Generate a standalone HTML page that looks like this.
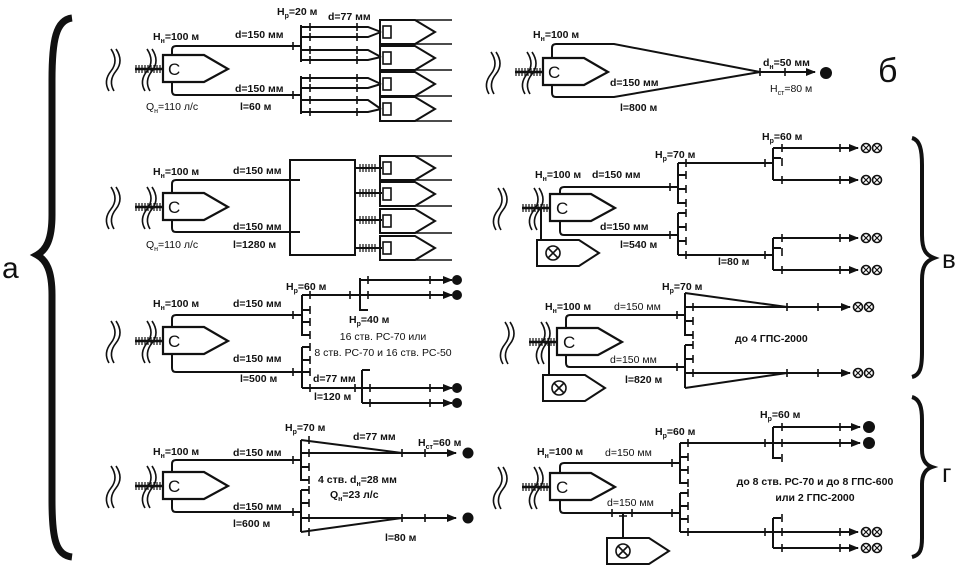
<!DOCTYPE html>
<html><head><meta charset="utf-8"><style>
html,body{margin:0;padding:0;background:#fff;}
svg{display:block;}
text{font-family:"Liberation Sans",sans-serif;font-size:10.5px;font-weight:bold;fill:#111;}
.l{stroke:#111;stroke-width:2;fill:none;}
.t{stroke:#111;stroke-width:1.6;fill:none;}
.big{font-size:30px;font-weight:normal;}
.c{font-size:17px;font-weight:normal;}
.n{font-weight:normal;}
</style></head><body>
<svg width="959" height="574" viewBox="0 0 959 574" xmlns="http://www.w3.org/2000/svg">
<defs>
<marker id="ar" markerWidth="10" markerHeight="8" refX="9" refY="4" orient="auto" markerUnits="userSpaceOnUse"><path d="M0,0 L10,4 L0,8 Z" fill="#111"/></marker>
<g id="src">
  <path class="l" d="M0,0 H41 L65,14 L41,27 H0 Z" style="stroke-width:2.2"/>
  <path class="t" d="M-52,-6 Q-44,6 -52,16 Q-60,26 -54,36 M-47,-6 Q-39,6 -47,16 Q-55,26 -49,36"/>
  <path class="t" d="M-16,-6 Q-8,6 -16,16 Q-24,26 -18,36 M-11,-6 Q-3,6 -11,16 Q-19,26 -13,36"/>
  <path class="l" d="M-28,14 H0" style="stroke-width:2.5"/>
  <path class="t" style="stroke-width:1.2" d="M-27,10v8M-24,10v8M-21,10v8M-18,10v8M-15,10v8M-12,10v8M-9,10v8M-6,10v8M-3,10v8"/>
</g>
<g id="gen">
  <path class="l" d="M0,0 H35 L55,12 L35,24 H0 Z"/>
  <rect x="3" y="6" width="8" height="12" class="t"/>
</g>
<g id="xx">
  <circle cx="0" cy="0" r="4.5" class="t"/><path class="t" style="stroke-width:1.2" d="M-3,-3L3,3M-3,3L3,-3"/>
  <circle cx="11" cy="0" r="4.5" class="t"/><path class="t" style="stroke-width:1.2" d="M8,-3L14,3M8,3L14,-3"/>
</g>
<g id="box">
  <path class="l" d="M0,0 H42 L62,13 L42,26 H0 Z"/>
  <circle cx="16" cy="13" r="7" class="t"/><path class="t" d="M11,8L21,18M11,18L21,8"/>
</g>
</defs>

<!-- braces -->
<path class="l" style="stroke-width:7" d="M72,18 C56,20 52,40 52,80 V215 C52,240 46,250 37,255 C46,260 52,270 52,295 V500 C52,540 56,555 72,557"/>
<text x="2" y="278" class="big">а</text>
<path class="l" style="stroke-width:4" d="M912,138 C920,140 922,150 922,165 V235 C922,250 926,255 934,258 C926,261 922,266 922,280 V352 C922,368 920,375 912,377"/>
<text x="942" y="268" class="big" style="font-size:26px">в</text>
<path class="l" style="stroke-width:4" d="M912,397 C920,399 922,408 922,420 V450 C922,460 926,465 932,467 C926,469 922,474 922,484 V538 C922,550 920,555 912,557"/>
<text x="942" y="482" class="big" style="font-size:26px">г</text>
<text x="878" y="82" class="big" style="font-size:34px">б</text>

<!-- ROW 1 LEFT -->
<use href="#src" x="163" y="55"/><text x="168" y="75" class="c">C</text>
<path class="l" d="M172,55 V50 Q172,46 176,46 H301 M172,82 V91 Q172,95 176,95 H301"/>
<path class="t" d="M293,42v8M293,91v8"/>
<path class="l" d="M301,25 V62 M301,76 V114"/>
<path class="l" d="M301,27 H368 L381,32 M301,37 H368 L381,32 M301,50 H368 L381,57 M301,60 H368 L381,57 M301,78 H368 L381,84 M301,88 H368 L381,84 M301,100 H368 L381,109 M301,112 H368 L381,109"/>
<path class="t" d="M310,23v8M310,33v8M310,46v8M310,56v8M310,74v8M310,84v8M310,96v8M310,108v8M357,23v8M357,33v8M357,46v8M357,56v8M357,74v8M357,84v8M357,96v8M357,108v8"/>
<use href="#gen" x="380" y="20"/><use href="#gen" x="380" y="46"/><use href="#gen" x="380" y="72"/><use href="#gen" x="380" y="97"/>
<path class="t" d="M382,44H452M382,70H452M382,96H452M382,121H452M415,20H452"/>
<text x="153" y="40">H<tspan font-size="7" dy="3">н</tspan><tspan dy="-3">=100 м</tspan></text>
<text x="235" y="38">d=150 мм</text>
<text x="277" y="15">H<tspan font-size="7" dy="3">р</tspan><tspan dy="-3">=20 м</tspan></text>
<text x="328" y="20">d=77 мм</text>
<text x="235" y="92">d=150 мм</text>
<text x="146" y="110" class="n">Q<tspan font-size="7" dy="3">н</tspan><tspan dy="-3">=110 л/с</tspan></text>
<text x="240" y="110">l=60 м</text>

<!-- ROW 2 LEFT -->
<use href="#src" x="163" y="193"/><text x="168" y="213" class="c">C</text>
<path class="l" d="M172,193 V184 Q172,180 176,180 H300 M172,220 V228 Q172,232 176,232 H300"/>
<rect x="290" y="160" width="65" height="95" class="l"/>
<path class="l" d="M355,168H382M355,193H382M355,220H382M355,248H382"/>
<path class="t" style="stroke-width:1.2" d="M360,164v8M363,164v8M366,164v8M369,164v8M372,164v8M375,164v8M360,189v8M363,189v8M366,189v8M369,189v8M372,189v8M375,189v8M360,216v8M363,216v8M366,216v8M369,216v8M372,216v8M375,216v8M360,244v8M363,244v8M366,244v8M369,244v8M372,244v8M375,244v8"/>
<use href="#gen" x="380" y="156"/><use href="#gen" x="380" y="182"/><use href="#gen" x="380" y="209"/><use href="#gen" x="380" y="236"/>
<path class="t" d="M382,180H452M382,206H452M382,233H452M382,260H452M415,156H452"/>
<text x="153" y="175">H<tspan font-size="7" dy="3">н</tspan><tspan dy="-3">=100 м</tspan></text>
<text x="233" y="174">d=150 мм</text>
<text x="233" y="230">d=150 мм</text>
<text x="146" y="248" class="n">Q<tspan font-size="7" dy="3">н</tspan><tspan dy="-3">=110 л/с</tspan></text>
<text x="233" y="248">l=1280 м</text>

<!-- ROW 3 LEFT -->
<use href="#src" x="163" y="327"/><text x="168" y="347" class="c">C</text>
<path class="l" d="M172,327 V319 Q172,315 176,315 H302 M172,354 V368 Q172,372 176,372 H302"/>
<path class="t" d="M293,311v8M293,368v8"/>
<path class="l" d="M302,295 V335 H310 M302,310 H310 M302,322 H310 M302,347 V388 M302,347 H310 M302,360 H310 M302,372 H310"/>
<path class="l" d="M302,295 H360 M360,278 V310 H368 M360,280 H440 M360,295 H440"/>
<path class="l" d="M302,388 H362 M362,370 H370 M362,370 V403 M362,388 H440 M362,403 H440"/>
<path class="l" marker-end="url(#ar)" d="M430,280 H452"/>
<path class="l" marker-end="url(#ar)" d="M430,295 H452"/>
<path class="l" marker-end="url(#ar)" d="M430,388 H452"/>
<path class="l" marker-end="url(#ar)" d="M430,403 H452"/>
<circle cx="457" cy="280" r="5" fill="#111"/><circle cx="457" cy="295" r="5" fill="#111"/><circle cx="457" cy="388" r="5" fill="#111"/><circle cx="457" cy="403" r="5" fill="#111"/>
<path class="t" d="M310,291v8M310,306v8M310,318v8M310,331v8M310,343v8M310,356v8M310,368v8M310,384v8M350,291v8M368,276v8M368,291v8M430,276v8M430,291v8M355,384v8M370,384v8M370,399v8M430,384v8M430,399v8"/>
<text x="153" y="307">H<tspan font-size="7" dy="3">н</tspan><tspan dy="-3">=100 м</tspan></text>
<text x="233" y="307">d=150 мм</text>
<text x="286" y="290">H<tspan font-size="7" dy="3">р</tspan><tspan dy="-3">=60 м</tspan></text>
<text x="349" y="323">H<tspan font-size="7" dy="3">р</tspan><tspan dy="-3">=40 м</tspan></text>
<text x="383" y="340" text-anchor="middle" class="n">16 ств. РС-70 или</text>
<text x="383" y="356" text-anchor="middle" class="n">8 ств. РС-70 и 16 ств. РС-50</text>
<text x="233" y="362">d=150 мм</text>
<text x="240" y="382">l=500 м</text>
<text x="313" y="382">d=77 мм</text>
<text x="314" y="400">l=120 м</text>

<!-- ROW 4 LEFT -->
<use href="#src" x="163" y="472"/><text x="168" y="492" class="c">C</text>
<path class="l" d="M172,472 V464 Q172,460 176,460 H301 M172,499 V508 Q172,512 176,512 H301"/>
<path class="t" d="M293,456v8M293,508v8"/>
<path class="l" d="M301,440 V480 H309 M301,467 H309 M301,490 V532 M301,490 H309 M301,503 H309"/>
<path class="l" d="M301,440 L402,453 M301,532 L402,518 M301,453 H440 M301,518 H440"/>
<path class="l" marker-end="url(#ar)" d="M430,453 H456"/>
<path class="l" marker-end="url(#ar)" d="M430,518 H456"/>
<circle cx="468" cy="453" r="5.5" fill="#111"/><circle cx="468" cy="518" r="5.5" fill="#111"/>
<path class="t" d="M309,436v8M309,449v8M309,463v8M309,476v8M309,486v8M309,499v8M309,514v8M309,528v8M402,449v8M425,449v8M402,514v8M425,514v8"/>
<text x="153" y="455">H<tspan font-size="7" dy="3">н</tspan><tspan dy="-3">=100 м</tspan></text>
<text x="233" y="456">d=150 мм</text>
<text x="285" y="431">H<tspan font-size="7" dy="3">р</tspan><tspan dy="-3">=70 м</tspan></text>
<text x="353" y="440">d=77 мм</text>
<text x="418" y="446">H<tspan font-size="7" dy="3">ст</tspan><tspan dy="-3">=60 м</tspan></text>
<text x="318" y="483">4 ств. d<tspan font-size="7" dy="3">н</tspan><tspan dy="-3">=28 мм</tspan></text>
<text x="330" y="498">Q<tspan font-size="7" dy="3">н</tspan><tspan dy="-3">=23 л/с</tspan></text>
<text x="233" y="510">d=150 мм</text>
<text x="233" y="527">l=600 м</text>
<text x="385" y="541">l=80 м</text>

<!-- ROW B RIGHT -->
<use href="#src" x="543" y="58"/><text x="548" y="78" class="c">C</text>
<path class="l" d="M552,58 V48 Q552,44 556,44 H614 L760,72 M552,85 V93 Q552,97 556,97 H614 L760,72"/>
<path class="l" marker-end="url(#ar)" d="M760,72 H815"/>
<circle cx="826" cy="73" r="6" fill="#111"/>
<path class="t" d="M760,68v8M785,68v8"/>
<text x="533" y="38">H<tspan font-size="7" dy="3">н</tspan><tspan dy="-3">=100 м</tspan></text>
<text x="610" y="86">d=150 мм</text>
<text x="620" y="111">l=800 м</text>
<text x="763" y="66">d<tspan font-size="7" dy="3">н</tspan><tspan dy="-3">=50 мм</tspan></text>
<text x="770" y="92" class="n">H<tspan font-size="7" dy="3">ст</tspan><tspan dy="-3">=80 м</tspan></text>

<!-- ROW C1 RIGHT -->
<use href="#src" x="550" y="194"/><text x="556" y="214" class="c">C</text>
<path class="l" d="M560,194 V191 Q560,187 564,187 H678 M560,221 V231 Q560,235 564,235 H678 M541,208 V240"/>
<use href="#box" x="537" y="240"/>
<path class="t" d="M670,183v8M670,231v8"/>
<path class="l" d="M678,163 V203 H686 M678,175 H686 M678,189 H686 M678,213 V255 M678,213 H686 M678,227 H686 M678,241 H686"/>
<path class="l" d="M678,163 H773 M773,148 V180 M773,148 H845 M773,180 H845 M678,255 H773 M773,238 V270 M773,238 H845 M773,270 H845"/>
<path class="l" marker-end="url(#ar)" d="M838,148 H858"/>
<path class="l" marker-end="url(#ar)" d="M838,180 H858"/>
<path class="l" marker-end="url(#ar)" d="M838,238 H858"/>
<path class="l" marker-end="url(#ar)" d="M838,270 H858"/>
<use href="#xx" x="866" y="148"/><use href="#xx" x="866" y="180"/><use href="#xx" x="866" y="238"/><use href="#xx" x="866" y="270"/>
<path class="t" d="M686,159v8M686,171v8M686,185v8M686,199v8M686,209v8M686,223v8M686,237v8M686,251v8M765,159v8M765,251v8M782,144v8M782,158v8M782,176v8M782,234v8M782,248v8M782,266v8M840,144v8M840,176v8M840,234v8M840,266v8"/>
<path class="l" d="M773,158H781 M773,248H781"/>
<text x="535" y="178">H<tspan font-size="7" dy="3">н</tspan><tspan dy="-3">=100 м</tspan></text>
<text x="592" y="178">d=150 мм</text>
<text x="655" y="158">H<tspan font-size="7" dy="3">р</tspan><tspan dy="-3">=70 м</tspan></text>
<text x="762" y="140">H<tspan font-size="7" dy="3">р</tspan><tspan dy="-3">=60 м</tspan></text>
<text x="600" y="230">d=150 мм</text>
<text x="620" y="248">l=540 м</text>
<text x="718" y="265">l=80 м</text>

<!-- ROW C2 RIGHT -->
<use href="#src" x="557" y="328"/><text x="563" y="348" class="c">C</text>
<path class="l" d="M566,328 V319 Q566,315 570,315 H685 M566,355 V363 Q566,367 570,367 H685 M549,342 V375"/>
<use href="#box" x="543" y="375"/>
<path class="t" d="M677,311v8M677,363v8"/>
<path class="l" d="M685,293 V335 H693 M685,321 H693 M685,345 V388 M685,345 H693 M685,359 H693"/>
<path class="l" d="M685,293 L787,307 M685,388 L787,373 M685,307 H840 M685,373 H840"/>
<path class="l" marker-end="url(#ar)" d="M820,307 H850"/>
<path class="l" marker-end="url(#ar)" d="M820,373 H850"/>
<use href="#xx" x="858" y="307"/><use href="#xx" x="858" y="373"/>
<path class="t" d="M693,303v8M693,317v8M693,331v8M693,341v8M693,355v8M693,369v8M787,303v8M818,303v8M787,369v8M818,369v8"/>
<text x="545" y="310">H<tspan font-size="7" dy="3">н</tspan><tspan dy="-3">=100 м</tspan></text>
<text x="614" y="310" class="n">d=150 мм</text>
<text x="662" y="290">H<tspan font-size="7" dy="3">р</tspan><tspan dy="-3">=70 м</tspan></text>
<text x="735" y="342">до 4 ГПС-2000</text>
<text x="610" y="363" class="n">d=150 мм</text>
<text x="625" y="383">l=820 м</text>

<!-- ROW D RIGHT -->
<use href="#src" x="550" y="473"/><text x="556" y="493" class="c">C</text>
<path class="l" d="M560,473 V467 Q560,463 564,463 H680 M560,500 V509 Q560,513 564,513 H680 M623,513 V538"/>
<use href="#box" x="607" y="538"/>
<path class="t" d="M672,459v8M672,509v8M612,509v8M632,509v8M619,516h8"/>
<path class="l" d="M680,443 V483 H688 M680,457 H688 M680,470 H688 M680,493 V532 M680,493 H688 M680,506 H688 M680,519 H688"/>
<path class="l" d="M680,443 H773 M773,427 V458 H781 M773,427 H845 M773,443 H845 M680,532 H773 M773,518 V548 M773,518 H781 M773,532 H845 M773,548 H845"/>
<path class="l" marker-end="url(#ar)" d="M838,427 H860"/>
<path class="l" marker-end="url(#ar)" d="M838,443 H860"/>
<path class="l" marker-end="url(#ar)" d="M838,532 H858"/>
<path class="l" marker-end="url(#ar)" d="M838,548 H858"/>
<circle cx="869" cy="427" r="6" fill="#111"/><circle cx="869" cy="443" r="6" fill="#111"/>
<use href="#xx" x="866" y="532"/><use href="#xx" x="866" y="548"/>
<path class="t" d="M688,439v8M688,453v8M688,466v8M688,479v8M688,489v8M688,502v8M688,515v8M688,528v8M765,439v8M765,528v8M782,423v8M782,439v8M782,454v8M782,514v8M782,528v8M782,544v8M840,423v8M840,439v8M840,528v8M840,544v8"/>
<text x="537" y="455">H<tspan font-size="7" dy="3">н</tspan><tspan dy="-3">=100 м</tspan></text>
<text x="605" y="456" class="n">d=150 мм</text>
<text x="655" y="435">H<tspan font-size="7" dy="3">р</tspan><tspan dy="-3">=60 м</tspan></text>
<text x="760" y="418">H<tspan font-size="7" dy="3">р</tspan><tspan dy="-3">=60 м</tspan></text>
<text x="607" y="506" class="n">d=150 мм</text>
<text x="815" y="485" text-anchor="middle">до 8 ств. РС-70 и до 8 ГПС-600</text>
<text x="815" y="501" text-anchor="middle">или 2 ГПС-2000</text>
</svg>
</body></html>
